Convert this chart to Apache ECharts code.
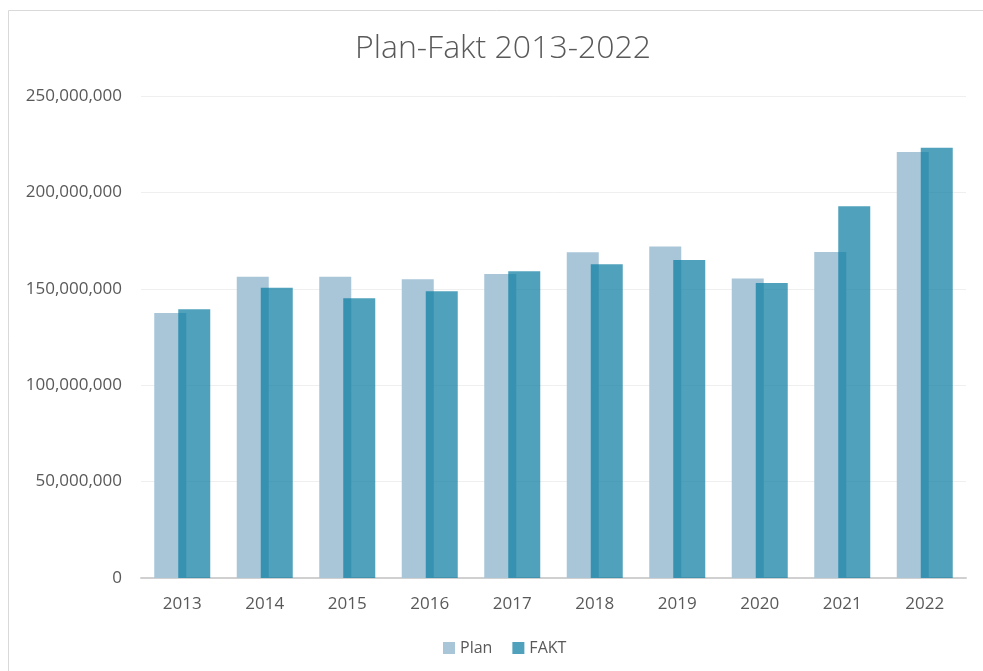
<!DOCTYPE html>
<html>
<head>
<meta charset="utf-8">
<title>Plan-Fakt 2013-2022</title>
<script src="https://cdn.jsdelivr.net/npm/echarts@6/dist/echarts.min.js"></script>
<style>
  html, body { margin: 0; padding: 0; background: #fff; }
  #chart { width: 983px; height: 671px; }
</style>
</head>
<body>
<div id="chart"></div>
<script>
// data
const years = ['2013', '2014', '2015', '2016', '2017', '2018', '2019', '2020', '2021', '2022'];
const plan = [137400000, 156300000, 156300000, 154900000, 157700000, 168900000, 171900000, 155400000, 169100000, 221000000];
const fakt = [139400000, 150600000, 145100000, 148700000, 159100000, 162700000, 164900000, 153000000, 192800000, 223200000];
const yTicks = [0, 50000000, 100000000, 150000000, 200000000, 250000000];

const myChart = echarts.init(document.getElementById('chart'));
const font = '"Open Sans", "Noto Sans", sans-serif';

const option = {
  animation: false,
  textStyle: { fontFamily: font },
  graphic: [{
    type: 'rect',
    shape: { x: 8.5, y: 10.5, width: 1000, height: 700 },
    style: { fill: 'none', stroke: '#d9d9d9', lineWidth: 1 },
    silent: true
  }],
  title: {
    text: 'Plan-Fakt 2013-2022',
    left: 498,
    textAlign: 'center',
    top: 28,
    textStyle: {
      fontFamily: font,
      fontSize: 32,
      fontWeight: 300,
      color: '#595959'
    }
  },
  legend: {
    top: 635,
    left: 438,
    itemWidth: 12,
    itemHeight: 12,
    itemGap: 20,
    icon: 'rect',
    textStyle: { fontSize: 16, color: '#595959', fontFamily: font },
    data: ['Plan', 'FAKT']
  },
  grid: {
    left: 141,
    right: 17,
    top: 96,
    bottom: 93
  },
  xAxis: {
    type: 'category',
    data: years,
    axisLine: { show: true, lineStyle: { color: '#d0d0d0', width: 2 } },
    axisTick: { show: false },
    axisLabel: { color: '#595959', fontSize: 17, margin: 18 },
    splitLine: { show: false }
  },
  yAxis: {
    type: 'value',
    min: yTicks[0],
    max: yTicks[yTicks.length - 1],
    interval: yTicks[1] - yTicks[0],
    axisLine: { show: false },
    axisTick: { show: false },
    axisLabel: {
      color: '#595959',
      fontSize: 17,
      margin: 19,
      formatter: v => v.toLocaleString('en-US')
    },
    splitLine: { show: true, lineStyle: { color: '#efefef', width: 1 } }
  },
  series: [
    {
      name: 'Plan',
      type: 'bar',
      data: plan,
      barWidth: 32,
      barGap: '-25%',
      itemStyle: { color: '#a9c6d8' }
    },
    {
      name: 'FAKT',
      type: 'bar',
      data: fakt,
      barWidth: 32,
      itemStyle: { color: 'rgba(8,122,159,0.71)' }
    }
  ]
};

myChart.setOption(option);
</script>
</body>
</html>
